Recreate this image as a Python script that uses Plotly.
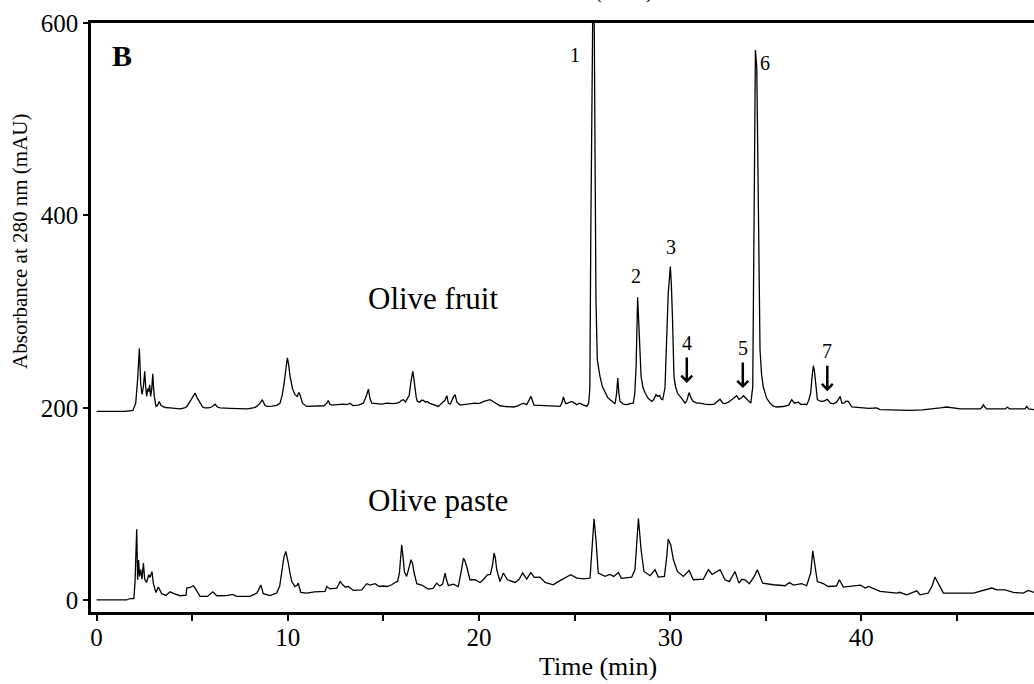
import plotly.graph_objects as go

# ---- data ----
fruit_time = [0.0, 1.5, 1.9, 2.05, 2.15, 2.24, 2.31, 2.38, 2.45, 2.52, 2.57, 2.62, 2.68, 2.73, 2.78, 2.83, 2.89, 2.94, 2.98, 3.02,
              3.11, 3.2, 3.28, 3.36, 3.46, 3.6, 3.84, 4.1, 4.37, 4.6, 4.72, 4.9, 5.05, 5.15, 5.25, 5.41, 5.55, 5.67, 5.85, 6.02,
              6.2, 6.32, 6.46, 7.0, 7.5, 7.86, 8.2, 8.38, 8.55, 8.67, 8.8, 8.9, 9.2, 9.45, 9.6, 9.72, 9.81, 9.9, 9.98, 10.05,
              10.12, 10.25, 10.38, 10.5, 10.58, 10.64, 10.7, 10.77, 10.99, 11.3, 11.6, 11.9, 12.04, 12.12, 12.2, 12.3, 12.6, 12.9, 13.1, 13.26,
              13.4, 13.7, 13.95, 14.1, 14.22, 14.3, 14.39, 14.6, 14.9, 15.2, 15.5, 15.7, 15.85, 15.95, 16.05, 16.15, 16.25, 16.35, 16.45, 16.54,
              16.6, 16.66, 16.72, 16.78, 16.9, 17.0, 17.1, 17.2, 17.3, 17.4, 17.53, 17.7, 17.88, 18.0, 18.14, 18.22, 18.32, 18.4, 18.5, 18.6,
              18.68, 18.75, 18.85, 19.01, 19.2, 19.45, 19.65, 19.8, 19.95, 20.06, 20.3, 20.58, 20.8, 21.1, 21.4, 21.8, 22.0, 22.32, 22.5, 22.72,
              22.88, 23.2, 23.55, 23.9, 24.24, 24.33, 24.42, 24.5, 24.56, 24.7, 24.85, 25.0, 25.12, 25.25, 25.38, 25.5, 25.64, 25.74, 25.8, 25.85,
              25.89, 25.92, 25.97, 26.03, 26.07, 26.12, 26.19, 26.33, 26.46, 26.6, 26.73, 26.86, 27.0, 27.12, 27.2, 27.26, 27.32, 27.38, 27.55, 27.73,
              27.9, 28.07, 28.15, 28.22, 28.3, 28.39, 28.48, 28.58, 28.69, 28.85, 29.04, 29.15, 29.26, 29.35, 29.45, 29.54, 29.61, 29.73, 29.8, 29.9,
              30.01, 30.06, 30.12, 30.2, 30.28, 30.38, 30.6, 30.78, 30.88, 30.99, 31.1, 31.21, 31.4, 31.56, 31.8, 32.08, 32.3, 32.5, 32.61, 32.75,
              32.87, 33.05, 33.22, 33.35, 33.48, 33.6, 33.7, 33.83, 33.95, 34.1, 34.22, 34.32, 34.39, 34.46, 34.53, 34.62, 34.7, 34.78, 34.87, 35.05,
              35.22, 35.4, 35.57, 35.9, 36.2, 36.36, 36.5, 36.7, 36.85, 37.0, 37.14, 37.25, 37.35, 37.42, 37.49, 37.55, 37.6, 37.7, 37.85, 38.01,
              38.22, 38.38, 38.54, 38.7, 38.8, 38.89, 38.98, 39.1, 39.2, 39.32, 39.5, 39.93, 40.4, 40.8, 40.98, 41.5, 42.0, 42.55, 43.2, 43.8,
              44.12, 44.47, 44.8, 45.18, 45.7, 46.22, 46.32, 46.38, 46.46, 46.56, 47.0, 47.52, 47.64, 47.75, 48.2, 48.56, 48.65, 48.75, 49.03]
fruit_abs = [196.5, 196.5, 197.5, 205, 230, 262, 225, 214, 222, 238, 222, 212, 220, 217, 224, 212, 220, 235.6, 222, 212,
             201.6, 203, 206.8, 203, 201.6, 200.5, 200, 199.5, 199, 200, 201.6, 207, 213, 215.5, 211, 205, 201, 200, 200, 201,
             204, 201, 200, 199.5, 199, 199, 200, 201.6, 205, 208.6, 203, 201.6, 202, 203, 205, 214, 226, 242, 252, 245,
             232.8, 220, 213.8, 212, 216, 213.8, 209, 205, 201.6, 202, 202.5, 202.3, 205, 207.8, 204, 203, 203.5, 204, 203.5, 205,
             202.5, 203, 205, 212, 219.6, 210, 205, 204.5, 204, 205, 204.5, 205, 206, 208, 208.6, 206, 209, 213, 228, 238,
             230, 219, 211, 206.8, 206, 208, 207.8, 206, 206.8, 205, 204, 203, 201.6, 204, 206.8, 208, 212.7, 205, 204, 209,
             212, 213.8, 206, 203, 203.5, 204, 204.5, 205, 204.5, 205, 207, 208.6, 206, 202.3, 201.5, 201, 202, 205, 203.5, 212,
             203, 202.5, 202.3, 202, 201.6, 205, 211.4, 206, 204.4, 205.5, 206.8, 205, 203.4, 205, 204, 203, 201.6, 205, 220, 380,
             560, 640, 650, 600, 485.7, 312.5, 250, 232.8, 222, 215.5, 211, 208.6, 206, 204.4, 215, 231, 215, 207, 204, 203.4,
             204.5, 205, 215, 243, 315, 277.8, 232.8, 221, 215.5, 210, 206.8, 209, 213.8, 212, 213, 209, 208.6, 220.7, 260, 319,
             347, 330, 295, 232.8, 222, 215.5, 210, 205, 208, 216, 210, 206.8, 205, 205, 204, 203.4, 204, 207, 209, 205,
             204.5, 206, 208.6, 210, 212.7, 209, 210, 212.7, 210, 207, 205, 222, 416, 572, 555, 381.8, 260.5, 235, 222, 210,
             205, 202, 201, 201.5, 203, 208.6, 205, 206, 203.5, 204, 203.4, 208, 215.5, 232, 243.9, 238, 225, 208.6, 207, 206.8,
             209, 205, 204.4, 206, 209, 212, 205, 205, 207, 206.8, 201, 200, 199.5, 200, 198.2, 198, 197.5, 197.4, 198, 199,
             200, 201, 200, 199, 199, 199, 201, 203.4, 201, 199, 199, 199, 201, 199, 199, 199, 201.6, 199, 198.2]

paste_time = [0.0, 1.58, 1.75, 1.95, 2.01, 2.06, 2.1, 2.15, 2.2, 2.25, 2.31, 2.38, 2.45, 2.52, 2.62, 2.73, 2.8, 2.9, 2.97, 3.05,
              3.11, 3.23, 3.32, 3.41, 3.63, 3.84, 4.05, 4.37, 4.68, 4.72, 4.9, 5.06, 5.15, 5.24, 5.41, 5.8, 6.08, 6.29, 6.8, 7.12,
              7.33, 8.03, 8.25, 8.38, 8.5, 8.59, 8.65, 8.72, 9.07, 9.42, 9.58, 9.69, 9.8, 9.9, 9.97, 10.03, 10.12, 10.21, 10.38, 10.5,
              10.55, 10.62, 10.68, 10.99, 11.4, 11.95, 12.04, 12.2, 12.56, 12.65, 12.74, 12.85, 13.0, 13.17, 13.3, 13.43, 13.87, 14.0, 14.13, 14.3,
              14.45, 14.57, 14.79, 15.0, 15.2, 15.44, 15.61, 15.75, 15.84, 15.91, 15.96, 16.03, 16.1, 16.22, 16.35, 16.45, 16.53, 16.61, 16.75, 17.0,
              17.35, 17.6, 17.79, 17.95, 18.1, 18.23, 18.3, 18.4, 18.65, 18.92, 19.05, 19.19, 19.27, 19.36, 19.53, 19.8, 20.06, 20.25, 20.44, 20.6,
              20.72, 20.79, 20.86, 20.93, 21.1, 21.28, 21.49, 21.89, 22.1, 22.29, 22.5, 22.71, 22.9, 23.19, 23.46, 23.89, 24.1, 24.41, 24.8, 25.12,
              25.5, 25.81, 25.9, 26.02, 26.12, 26.24, 26.6, 26.85, 27.05, 27.29, 27.45, 27.99, 28.16, 28.34, 28.48, 28.63, 28.95, 29.21, 29.38, 29.7,
              29.82, 29.9, 30.03, 30.17, 30.38, 30.69, 30.99, 31.21, 31.74, 32.0, 32.2, 32.61, 32.87, 33.1, 33.39, 33.6, 33.75, 33.92, 34.14, 34.4,
              34.56, 34.84, 35.4, 36.01, 36.23, 36.45, 36.88, 37.14, 37.35, 37.46, 37.58, 37.7, 38.01, 38.27, 38.7, 38.85, 39.06, 39.76, 39.95, 40.2,
              40.37, 40.98, 41.5, 41.85, 42.0, 42.37, 42.9, 43.07, 43.5, 43.7, 43.85, 44.03, 44.29, 45.86, 46.38, 46.82, 47.1, 47.52, 47.95, 48.47,
              48.73, 49.03]
paste_abs = [0.5, 0.5, 2, 2, 18, 50, 74, 21.5, 42, 25, 32, 22, 38.9, 22, 18.7, 26.7, 24, 30, 18, 12,
             8.3, 14, 10, 7, 5.2, 9, 7, 4.9, 5.5, 12.9, 13.5, 15.3, 13, 9.4, 4.2, 4.2, 9, 4.9, 5, 6.2,
             4.2, 4.2, 6, 7.7, 12, 16, 12, 7, 5, 7.7, 15, 28.5, 45, 51, 45, 38.9, 28, 19.7, 14.5, 16,
             18, 12, 8.3, 7.7, 9, 9.4, 14.5, 12, 12.9, 16, 19.7, 17, 14, 14.5, 12, 10.4, 11, 14, 17.4, 16,
             16.5, 17.4, 14.5, 15, 14.5, 16.3, 18.7, 20, 28.5, 45, 57.9, 45, 30, 25, 34, 42.3, 38, 28.5, 17.4, 16,
             11.8, 12.5, 18, 15, 17, 28.5, 22, 15.3, 17, 14.5, 28, 44, 41, 35.3, 21.5, 21.5, 18.7, 22, 26.7, 27,
             38, 49.3, 44, 31.9, 19.7, 28.5, 21.5, 18.7, 22, 28.5, 22.2, 29, 24, 24.3, 18.7, 16.3, 19, 22.2, 26.7, 23.3,
             22.5, 23.3, 52.7, 84.9, 63, 28.5, 25, 27, 25, 29, 23, 24.3, 31.9, 85.2, 52.7, 30.1, 25.7, 31.9, 24.3, 25,
             45, 63.8, 57.9, 42.3, 30.1, 25, 31.2, 21.5, 22.2, 31.9, 27, 31.9, 21.5, 19.5, 30.1, 18, 22, 21.5, 17.4, 25,
             31.9, 18, 16.3, 15.3, 18.7, 16, 17.4, 15.3, 28.5, 51.6, 35.3, 19.7, 17.4, 14.5, 15, 21.5, 13.9, 15.3, 16, 12.9,
             14.5, 9.4, 8.5, 7.7, 8.5, 5.9, 10, 5.9, 7.7, 15, 24.3, 18, 7.7, 7.7, 10.4, 12.9, 11, 11, 8.3, 7.7,
             10.4, 8.3]

x_tick_vals = [0, 5, 10, 15, 20, 25, 30, 35, 40, 45]
x_tick_text = ["0", "", "10", "", "20", "", "30", "", "40", ""]
y_tick_vals = [0, 200, 400, 600]

peak_labels = ["1", "2", "3", "6"]
peak_label_t = [25.03, 28.22, 30.03, 34.96]
peak_label_a = [567, 337, 367, 558.5]

arrow_labels = ["4", "5", "7"]
arrow_tip_t = [30.87, 33.80, 38.22]
arrow_tip_a = [226, 220.7, 217.5]

FONT = "Liberation Serif"

fig = go.Figure()
fig.add_trace(go.Scatter(x=fruit_time, y=fruit_abs, mode="lines",
                         line=dict(color="black", width=1.3), showlegend=False))
fig.add_trace(go.Scatter(x=paste_time, y=paste_abs, mode="lines",
                         line=dict(color="black", width=1.3), showlegend=False))

annotations = []
for lab, t, a in zip(peak_labels, peak_label_t, peak_label_a):
    annotations.append(dict(x=t, y=a, xref="x", yref="y", text=lab, showarrow=False,
                            font=dict(family=FONT, size=20, color="black")))
for lab, t, a in zip(arrow_labels, arrow_tip_t, arrow_tip_a):
    annotations.append(dict(x=t, y=a, xref="x", yref="y", text=lab, showarrow=True,
                            ax=0, ay=-40, arrowhead=4, arrowsize=0.85, arrowwidth=2.5,
                            arrowcolor="black", standoff=0, startstandoff=2,
                            font=dict(family=FONT, size=20, color="black")))

annotations += [
    dict(x=14.1, y=313.5, xref="x", yref="y", text="Olive fruit", showarrow=False,
         xanchor="left", yanchor="middle", font=dict(family=FONT, size=31, color="black")),
    dict(x=14.1, y=104, xref="x", yref="y", text="Olive paste", showarrow=False,
         xanchor="left", yanchor="middle", font=dict(family=FONT, size=31, color="black")),
    dict(x=0.0201, y=0.9445, xref="paper", yref="paper", text="<b>B</b>", showarrow=False,
         xanchor="left", yanchor="middle", font=dict(family=FONT, size=30, color="black")),
    dict(x=0.5377, y=-0.093, xref="paper", yref="paper", text="Time (min)", showarrow=False,
         xanchor="center", yanchor="middle", font=dict(family=FONT, size=26, color="black")),
    dict(x=-0.0753, y=0.63, xref="paper", yref="paper", text="Absorbance at 280 nm (mAU)",
         showarrow=False, textangle=-90, xanchor="center", yanchor="middle",
         font=dict(family=FONT, size=21, color="black")),
    dict(x=0.5652, y=1.031, xref="paper", yref="paper", text="(mAU)", showarrow=False,
         xanchor="center", yanchor="bottom", font=dict(family=FONT, size=20, color="black")),
]

fig.update_layout(
    width=1034, height=684,
    margin=dict(l=91, r=0, t=23, b=72),
    paper_bgcolor="white", plot_bgcolor="white",
    font=dict(family=FONT, color="black"),
    annotations=annotations,
    xaxis=dict(range=[-0.29, 49.03], showgrid=False, zeroline=False,
               showline=True, linecolor="black", linewidth=2.5, mirror=True,
               ticks="outside", ticklen=6, tickwidth=2, tickcolor="black",
               tickvals=x_tick_vals, ticktext=x_tick_text,
               tickfont=dict(family=FONT, size=25, color="black"), ticklabelstandoff=-5),
    yaxis=dict(range=[-12, 600], showgrid=False, zeroline=False,
               showline=True, linecolor="black", linewidth=2.5,
               ticks="outside", ticklen=5, tickwidth=2, tickcolor="black",
               tickvals=y_tick_vals,
               tickfont=dict(family=FONT, size=25, color="black"), ticklabelstandoff=0),
)

fig.write_html("out.html", config={"displayModeBar": False},
               post_script="document.body.style.margin='0px';")
